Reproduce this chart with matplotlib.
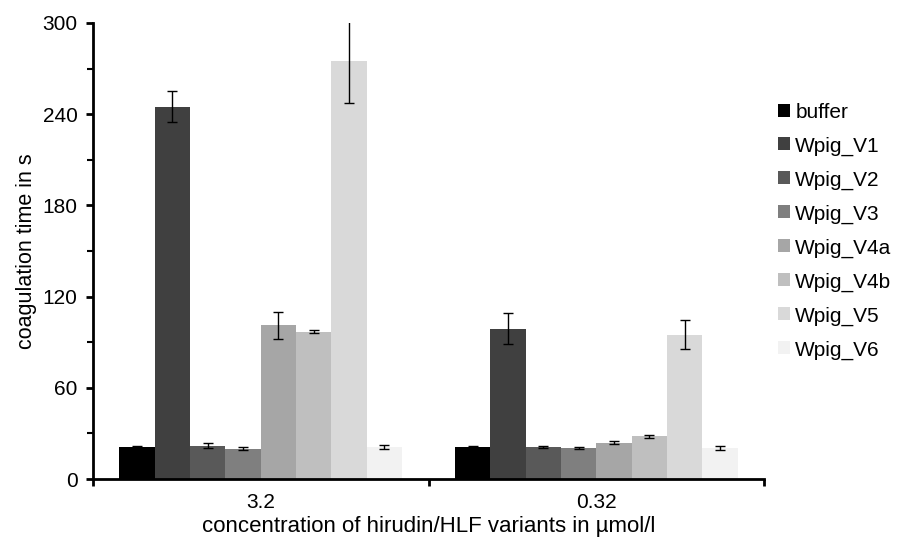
import numpy as np
import matplotlib
matplotlib.use("Agg")
import matplotlib.pyplot as plt
from matplotlib.ticker import MultipleLocator, FixedLocator

plt.rcParams['font.family'] = ['Liberation Sans', 'DejaVu Sans']

# data
groups = ['3.2', '0.32']
series = ['buffer', 'Wpig_V1', 'Wpig_V2', 'Wpig_V3', 'Wpig_V4a', 'Wpig_V4b', 'Wpig_V5', 'Wpig_V6']
vals_32 = [21, 245, 22, 20, 101, 97, 275, 21]
vals_032 = [21, 99, 21, 20.5, 24, 28, 95, 20.5]
err_32 = [0.7, 10, 1.5, 0.8, 9, 1, 28, 1.5]
err_032 = [0.7, 10, 0.7, 0.8, 1.2, 1, 9.5, 1.5]
colors = ['#000000', '#404040', '#595959', '#7f7f7f', '#a6a6a6', '#bfbfbf', '#d9d9d9', '#f2f2f2']

fig = plt.figure(figsize=(9.06, 5.45), dpi=100)
ax = fig.add_axes([0.1026, 0.121, 0.741, 0.837])

x = np.arange(len(groups))
w = 1 / 9.5
for i, name in enumerate(series):
    xs = x - 4 * w + (i + 0.5) * w
    ax.bar(xs, [vals_32[i], vals_032[i]], w, color=colors[i], label=name,
           yerr=[err_32[i], err_032[i]], capsize=3.5,
           error_kw=dict(elinewidth=1, capthick=1, ecolor='black'))

ax.set_xlim(-0.5, 1.5)
ax.set_ylim(0, 300)
ax.yaxis.set_major_locator(MultipleLocator(60))
ax.yaxis.set_minor_locator(MultipleLocator(30))
ax.set_xticks(x)
ax.set_xticklabels(groups)
ax.xaxis.set_minor_locator(FixedLocator([-0.5, 0.5, 1.5]))
ax.tick_params(axis='x', which='major', length=0, labelsize=15, pad=10)
ax.tick_params(axis='x', which='minor', length=5, width=2, direction='out')
ax.tick_params(axis='y', which='major', length=5, width=2, direction='out', labelsize=15, pad=6)
ax.tick_params(axis='y', which='minor', length=4, width=1.5, direction='out')

for s in ['top', 'right']:
    ax.spines[s].set_visible(False)
for s in ['left', 'bottom']:
    ax.spines[s].set_linewidth(2)

ax.set_ylabel('coagulation time in s', fontsize=15.5, labelpad=4)
ax.set_xlabel('concentration of hirudin/HLF variants in µmol/l', fontsize=16, labelpad=3)

# legend: first entry centred ~112 px from the top, rows ~34 px apart,
# squares starting ~778 px from the left
leg_fs = 15
leg_kw = dict(loc='upper left', frameon=False, fontsize=leg_fs,
              handlelength=0.58, handleheight=0.58, handletextpad=0.25, borderpad=0.4)
ls = 0.45
leg = ax.legend(bbox_to_anchor=(1.0, 0.85), labelspacing=ls, **leg_kw)
fig.canvas.draw()
t = leg.get_texts()
pitch = (t[0].get_window_extent().y0 - t[-1].get_window_extent().y0) / (len(t) - 1)
ls += (34 - pitch) / (leg_fs * fig.dpi / 72)
leg = ax.legend(bbox_to_anchor=(1.0, 0.85), labelspacing=ls, **leg_kw)
fig.canvas.draw()
H = fig.bbox.height
b0 = leg.get_texts()[0].get_window_extent()
p0 = leg.legend_handles[0].get_window_extent()
dx = 778 - p0.x0
dy = (H - 112) - (b0.y0 + b0.y1) / 2
ax_bb = ax.get_window_extent()
leg.set_bbox_to_anchor((1.0 + dx / ax_bb.width, 0.85 + dy / ax_bb.height), transform=ax.transAxes)

fig.savefig('out.png', dpi=100)
